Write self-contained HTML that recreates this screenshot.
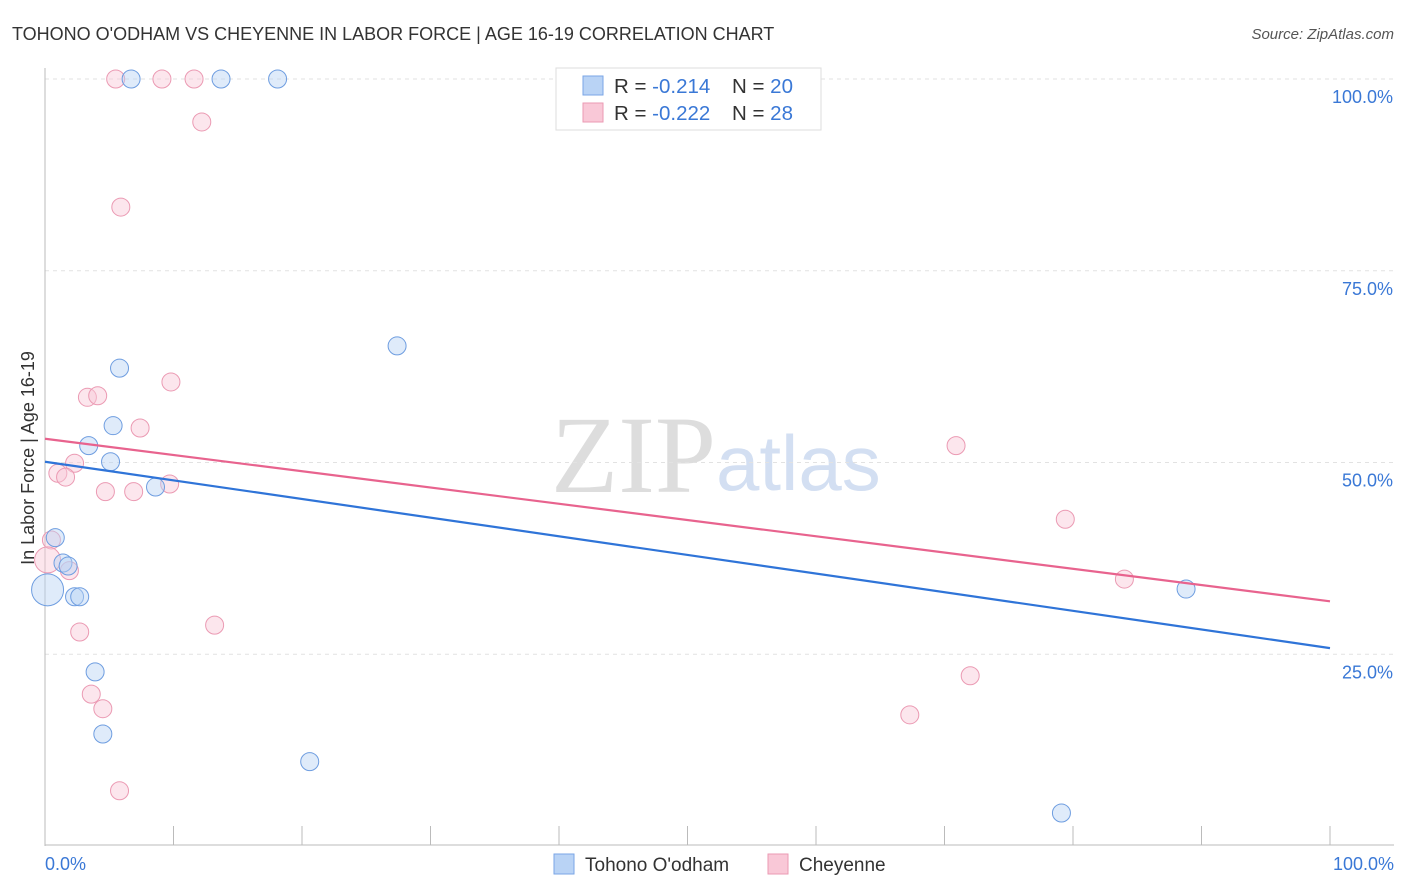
<!DOCTYPE html>
<html><head><meta charset="utf-8"><style>
body{margin:0;background:#fff;font-family:"Liberation Sans",sans-serif;}
svg{display:block}
</style></head><body>
<svg id="chart" width="1406" height="892">
<text x="12" y="40" font-size="18" fill="#333">TOHONO O'ODHAM VS CHEYENNE IN LABOR FORCE | AGE 16-19 CORRELATION CHART</text>
<text x="1394" y="39" font-size="15" fill="#555" font-style="italic" text-anchor="end">Source: ZipAtlas.com</text>
<text x="716" y="492" font-size="110" fill="#ddd" font-family="Liberation Serif,serif" text-anchor="end">ZIP</text>
<text x="716" y="490" font-size="78" fill="#d3dff2">atlas</text>
<g id="grid"></g>
<g id="axes"></g>
<g id="marks"></g>
<text transform="translate(34,458) rotate(-90)" font-size="18" fill="#333" text-anchor="middle">In Labor Force | Age 16-19</text>
<g>
<rect x="556" y="68" width="265" height="62" fill="#fff" stroke="#ddd"/>
<rect x="583" y="76" width="20" height="19" fill="#b9d3f5" stroke="#7aa6e6"/>
<rect x="583" y="103" width="20" height="19" fill="#f9c8d7" stroke="#eb9ab3"/>
<text x="614" y="93" font-size="20.5" fill="#333">R = <tspan fill="#3a78d6">-0.214</tspan>  <tspan x="732">N = </tspan><tspan fill="#3a78d6">20</tspan></text>
<text x="614" y="120" font-size="20.5" fill="#333">R = <tspan fill="#3a78d6">-0.222</tspan>  <tspan x="732">N = </tspan><tspan fill="#3a78d6"> 28</tspan></text>
</g>
<g>
<rect x="554" y="854" width="20" height="20" fill="#b9d3f5" stroke="#7aa6e6"/>
<text x="585" y="871" font-size="19" fill="#333">Tohono O'odham</text>
<rect x="768" y="854" width="20" height="20" fill="#f9c8d7" stroke="#eb9ab3"/>
<text x="799" y="871" font-size="19" fill="#333">Cheyenne</text>
</g>
</svg>
<script>
const blueX=[6.7,13.7,18.1,27.4,5.8,5.3,3.4,5.1,8.6,0.8,1.4,1.8,0.2,2.3,2.7,3.9,4.5,20.6,79.1,88.8];
const blueY=[100,100,100,65.2,62.3,54.8,52.2,50.1,46.8,40.2,36.9,36.5,33.4,32.5,32.5,22.7,14.6,11.0,4.3,33.5];
const blueR=[9,9,9,9,9,9,9,9,9,9,9,9,16,9,9,9,9,9,9,9];
const pinkX=[5.5,9.1,11.6,12.2,5.9,9.8,3.3,4.1,7.4,2.3,1.0,1.6,4.7,6.9,9.7,0.5,1.9,0.2,2.7,13.2,3.6,4.5,5.8,70.9,79.4,84.0,72.0,67.3];
const pinkY=[100,100,100,94.4,83.3,60.5,58.5,58.7,54.5,49.9,48.6,48.1,46.2,46.2,47.2,39.9,35.9,37.3,27.9,28.8,19.8,17.9,7.2,52.2,42.6,34.8,22.2,17.1];
const pinkR=[9,9,9,9,9,9,9,9,9,9,9,9,9,9,9,9,9,13,9,9,9,9,9,9,9,9,9,9];
const blueTrend=[50.1,25.8];
const pinkTrend=[53.1,31.9];
const yTicks=[25,50,75,100];
const xTickLabels=["0.0%","100.0%"];
const NS="http://www.w3.org/2000/svg";
const X=v=>45+v*12.85, Y=v=>846-v*7.67;
function mk(p,t,a){const e=document.createElementNS(NS,t);for(const k in a)e.setAttribute(k,a[k]);p.appendChild(e);return e;}
const grid=document.getElementById('grid'),axes=document.getElementById('axes'),marks=document.getElementById('marks');
yTicks.forEach(t=>{
 const l=mk(grid,'line',{x1:45,x2:1394,y1:Y(t),y2:Y(t),stroke:'#e2e2e2','stroke-dasharray':'4,4'});
 
 
 const tx=mk(grid,'text',{x:1393,y:Y(t)+24,'font-size':18,fill:'#3a78d6','text-anchor':'end'});
 tx.textContent=t.toFixed(1)+'%';
 
 
});
mk(axes,'line',{x1:45,x2:45,y1:68,y2:846,stroke:'#bbb'});
mk(axes,'line',{x1:45,x2:1394,y1:845,y2:845,stroke:'#bbb'});
for(let i=0;i<=10;i++){mk(axes,'line',{x1:X(i*10),x2:X(i*10),y1:826,y2:845,stroke:'#bbb'});}
const xl=mk(axes,'text',{x:45,y:870,'font-size':18,fill:'#3a78d6'});xl.textContent=xTickLabels[0];


const xr=mk(axes,'text',{x:1394,y:870,'font-size':18,fill:'#3a78d6','text-anchor':'end'});xr.textContent=xTickLabels[1];


function pts(xs,ys,rs,fill,stroke,name){xs.forEach((x,i)=>{
 const c=mk(marks,'circle',{cx:X(x),cy:Y(ys[i]),r:rs[i],fill:fill,'fill-opacity':0.45,stroke:stroke,'stroke-width':1});
 
 
});}
pts(pinkX,pinkY,pinkR,'#f9c8d7','#eb9ab3','cheyenne-point');
pts(blueX,blueY,blueR,'#b9d3f5','#6e9de0','tohono-point');
const bl=mk(marks,'line',{x1:X(0),y1:Y(blueTrend[0]),x2:X(100),y2:Y(blueTrend[1]),stroke:'#2f74d8','stroke-width':2.2});


const pl=mk(marks,'line',{x1:X(0),y1:Y(pinkTrend[0]),x2:X(100),y2:Y(pinkTrend[1]),stroke:'#e8638e','stroke-width':2.2});


</script>
</body></html>
